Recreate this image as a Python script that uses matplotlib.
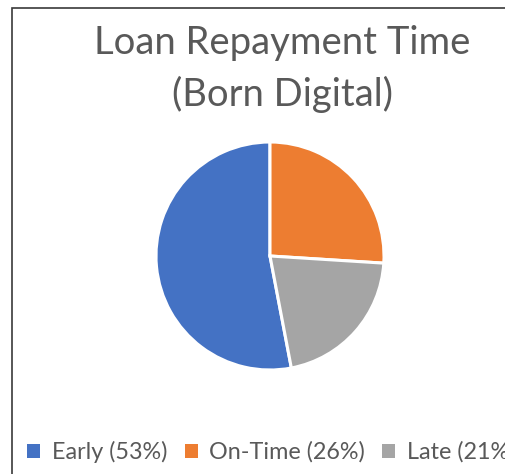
import matplotlib
matplotlib.use("Agg")
import matplotlib.pyplot as plt
from matplotlib.patches import Rectangle

categories = ["Early", "On-Time", "Late"]
values = [53, 26, 21]
colors = ["#4472C4", "#ED7D31", "#A5A5A5"]
title = "Loan Repayment Time\n(Born Digital)"

W, H = 505, 474
fig = plt.figure(figsize=(W / 100, H / 100), dpi=100)
fig.patch.set_facecolor("white")

# border (clipped on right and bottom like the source)
fig.add_artist(Rectangle((12 / W, -0.1), 1.2, 1 - 8 / H + 0.1, transform=fig.transFigure,
                         fill=False, edgecolor="#3a3a3a", linewidth=1.2))

cx, cy, r = 270, 256, 114
ax = fig.add_axes([(cx - r) / W, (H - cy - r) / H, 2 * r / W, 2 * r / H])
total = sum(values)
start = 90 + 360 * values[0] / total
wedges, _ = ax.pie(values, colors=colors, startangle=start, counterclock=False,
                   wedgeprops=dict(edgecolor="white", linewidth=2.2))
ax.set_xlim(-1, 1)
ax.set_ylim(-1, 1)
ax.set_aspect("equal")
ax.axis("off")

fig.text(282 / W, 1 - 69 / H, title, ha="center", va="center", fontsize=27.5,
         color="#595959", family="Lato", linespacing=1.5)

labels = [f"{c} ({v}%)" for c, v in zip(categories, values)]
fig.legend(wedges, labels, loc="center left", bbox_to_anchor=(18 / W, 1 - 452 / H),
           ncol=3, frameon=False, handlelength=0.55, handleheight=0.55,
           handletextpad=0.5, columnspacing=0.75, borderaxespad=0,
           prop=dict(family="Lato", size=16.8), labelcolor="#595959")
for h in fig.legends[0].legend_handles:
    h.set_edgecolor("none")

fig.savefig("out.png", dpi=100)
